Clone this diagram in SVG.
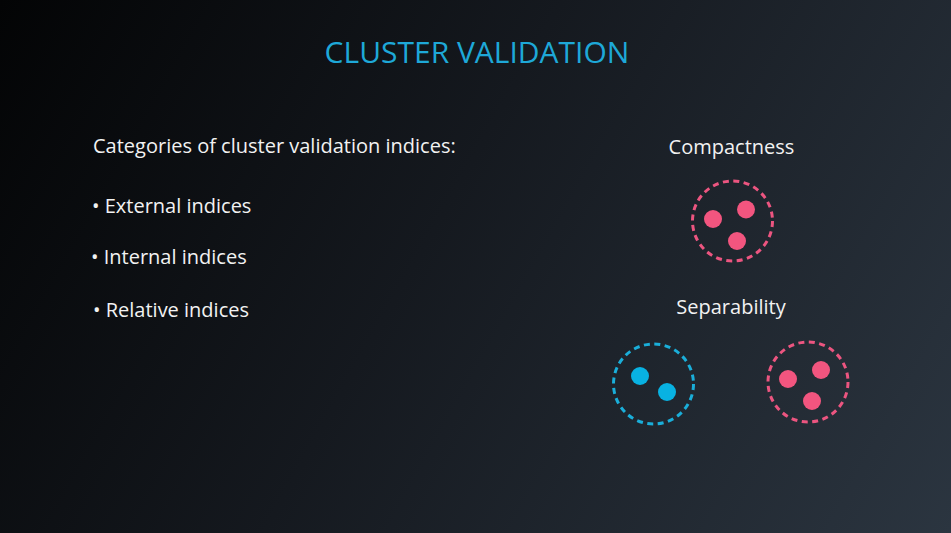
<svg xmlns="http://www.w3.org/2000/svg" width="951" height="533" viewBox="0 0 951 533">
  <defs>
    <linearGradient id="bg" x1="0" y1="0" x2="951" y2="533" gradientUnits="userSpaceOnUse">
      <stop offset="0" stop-color="#030405"/>
      <stop offset="0.45" stop-color="#15191f"/>
      <stop offset="1" stop-color="#2b3540"/>
    </linearGradient>
    <style>
      .t { font-family: "Open Sans", "Noto Sans", sans-serif; fill: #f2f2f2; }
      .title { font-size: 30px; fill: #1ea8d8; }
      .body { font-size: 20px; }
      .ring { fill: none; stroke-width: 3; stroke-dasharray: 6 4.5; }
      .pink { stroke: #ec5580; }
      .blue { stroke: #1aaed9; }
      .dp { fill: #f2557f; }
      .db { fill: #08b2e2; }
    </style>
  </defs>
  <rect width="951" height="533" fill="url(#bg)"/>

  <text class="t title" x="477" y="63" text-anchor="middle">CLUSTER VALIDATION</text>

  <g id="categories">
    <text class="t body" x="93" y="153">Categories of cluster validation indices:</text>
    <text class="t body" x="92" y="213">• External indices</text>
    <text class="t body" x="91" y="264">• Internal indices</text>
    <text class="t body" x="93" y="317">• Relative indices</text>
  </g>

  <g id="compactness">
    <text class="t body" x="731.5" y="154" text-anchor="middle">Compactness</text>
    <circle class="ring pink" cx="732.5" cy="221" r="40"/>
    <circle class="dp" cx="713" cy="219" r="9"/>
    <circle class="dp" cx="746" cy="209.5" r="9"/>
    <circle class="dp" cx="737" cy="241" r="9"/>
  </g>

  <g id="separability">
    <text class="t body" x="731" y="314" text-anchor="middle">Separability</text>
    <circle class="ring blue" cx="653.5" cy="384" r="40"/>
    <circle class="db" cx="640" cy="376" r="9"/>
    <circle class="db" cx="667" cy="392" r="9"/>
    <circle class="ring pink" cx="808" cy="382" r="40"/>
    <circle class="dp" cx="788" cy="379" r="9"/>
    <circle class="dp" cx="821" cy="370" r="9"/>
    <circle class="dp" cx="812" cy="401" r="9"/>
  </g>
</svg>
